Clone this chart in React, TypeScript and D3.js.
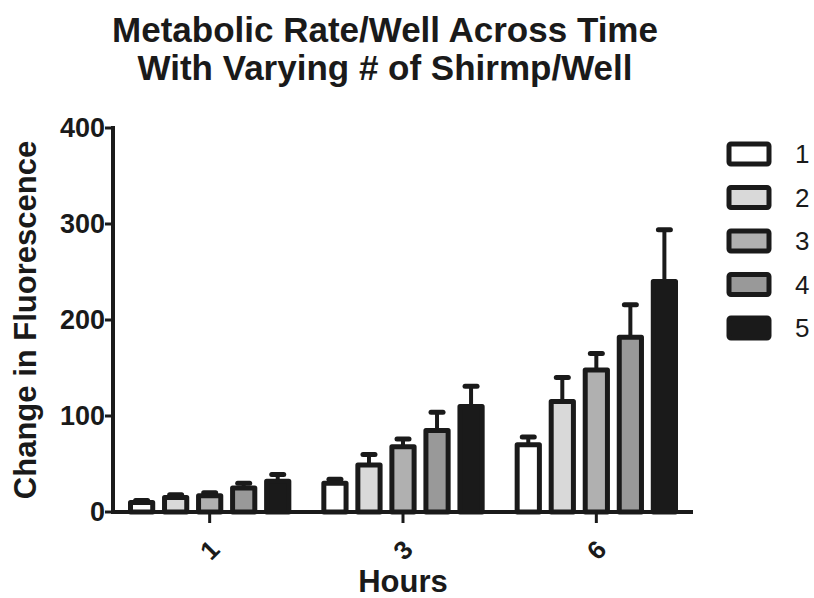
import React from 'react';
import { scaleBand, scaleLinear } from 'd3';

const hours = ['1', '3', '6'];
const shrimpPerWell = ['1', '2', '3', '4', '5'];
// mean change in fluorescence, one array per shrimp count, indexed by hour
const means = [
  [10, 30, 70],
  [15, 49, 115],
  [17, 68, 148],
  [25, 85, 182],
  [32, 110, 240],
];
// upper error (SEM)
const errors = [
  [2, 4, 8],
  [3, 11, 25],
  [3, 8, 17],
  [5, 19, 34],
  [7, 21, 54],
];
const yTicks = [0, 100, 200, 300, 400];
const fills = ['#ffffff', '#d9d9d9', '#b0b0b0', '#999999', '#1a1a1a'];

const ink = '#1a1a1a';
const font = '"Liberation Sans", Arial, sans-serif';

export default function App() {
  const W = 814, H = 598;
  const left = 113, right = 693, top = 128, bottom = 512;

  const x = scaleBand<string>().domain(hours).range([left, right]);
  const xInner = scaleBand<string>()
    .domain(shrimpPerWell)
    .range([15, x.bandwidth() - 15])
    .paddingInner(0.2);
  const y = scaleLinear().domain([0, 400]).range([bottom, top]);

  const sw = 5;

  return (
    <svg width={W} height={H} style={{ position: 'absolute', left: 0, top: 0, background: '#fff' }}>
      {/* title */}
      <text x={385} y={42} textAnchor="middle" fontFamily={font} fontWeight="bold" fontSize={35} fill={ink}>
        Metabolic Rate/Well Across Time
      </text>
      <text x={385} y={80} textAnchor="middle" fontFamily={font} fontWeight="bold" fontSize={35} fill={ink}>
        With Varying # of Shirmp/Well
      </text>

      {/* bars */}
      {shrimpPerWell.map((s, i) => (
        <g key={s}>
          {hours.map((h, j) => {
            const bx = (x(h) as number) + (xInner(s) as number);
            const bw = xInner.bandwidth();
            const v = means[i][j];
            const e = errors[i][j];
            const cx = bx + bw / 2;
            return (
              <g key={h}>
                <line x1={cx} x2={cx} y1={y(v)} y2={y(v + e)} stroke={ink} strokeWidth={4} />
                <line x1={cx - 6} x2={cx + 6} y1={y(v + e)} y2={y(v + e)} stroke={ink} strokeWidth={5} strokeLinecap="round" />
                <rect
                  x={bx + sw / 2}
                  y={y(v)}
                  width={bw - sw}
                  height={y(0) - y(v)}
                  fill={fills[i]}
                  stroke={ink}
                  strokeWidth={sw}
                  strokeLinejoin="round"
                />
              </g>
            );
          })}
        </g>
      ))}

      {/* y axis */}
      <line x1={left} x2={left} y1={top - 2} y2={bottom + 2} stroke={ink} strokeWidth={4} />
      {yTicks.map(t => (
        <g key={t}>
          <line x1={left - 8} x2={left} y1={y(t)} y2={y(t)} stroke={ink} strokeWidth={3} />
          <text x={left - 8} y={y(t)} dy="0.35em" textAnchor="end" fontFamily={font} fontWeight="bold" fontSize={27} fill={ink}>
            {t}
          </text>
        </g>
      ))}
      <text
        transform={`translate(36,${(top + bottom) / 2}) rotate(-90)`}
        textAnchor="middle"
        fontFamily={font}
        fontWeight="bold"
        fontSize={31}
        fill={ink}
      >
        Change in Fluorescence
      </text>

      {/* x axis */}
      <line x1={left - 2} x2={right} y1={bottom} y2={bottom} stroke={ink} strokeWidth={4} />
      {hours.map(h => {
        const cx = (x(h) as number) + x.bandwidth() / 2;
        return (
          <g key={h}>
            <line x1={cx} x2={cx} y1={bottom} y2={bottom + 11} stroke={ink} strokeWidth={3} />
            <text
              transform={`translate(${cx},${bottom + 38}) rotate(-45)`}
              textAnchor="middle"
              dy="0.35em"
              fontFamily={font}
              fontWeight="bold"
              fontSize={26}
              fill={ink}
            >
              {h}
            </text>
          </g>
        );
      })}
      <text x={403} y={592} textAnchor="middle" fontFamily={font} fontWeight="bold" fontSize={31} fill={ink}>
        Hours
      </text>

      {/* legend */}
      {shrimpPerWell.map((s, i) => {
        const cy = 154 + i * 43.5;
        return (
          <g key={s}>
            <rect x={729} y={cy - 10} width={40} height={20} fill={fills[i]} stroke={ink} strokeWidth={sw} rx={2} />
            <text x={795} y={cy} dy="0.36em" fontFamily={font} fontSize={26} fill={ink}>
              {s}
            </text>
          </g>
        );
      })}
    </svg>
  );
}
